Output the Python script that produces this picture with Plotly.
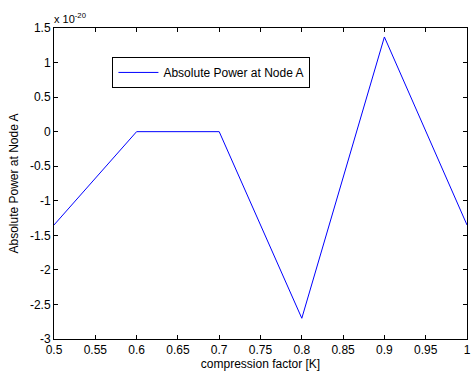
import plotly.graph_objects as go

x_vals = [0.5, 0.6, 0.7, 0.8, 0.9, 1.0]
y_vals = [-1.35, 0.0, 0.0, -2.70, 1.37, -1.35]  # in units of 1e-20
x_ticks = [0.5, 0.55, 0.6, 0.65, 0.7, 0.75, 0.8, 0.85, 0.9, 0.95, 1.0]
x_tick_labels = ["0.5", "0.55", "0.6", "0.65", "0.7", "0.75", "0.8", "0.85", "0.9", "0.95", "1"]
y_ticks = [-3, -2.5, -2, -1.5, -1, -0.5, 0, 0.5, 1, 1.5]
y_tick_labels = ["-3", "-2.5", "-2", "-1.5", "-1", "-0.5", "0", "0.5", "1", "1.5"]
series_name = "Absolute Power at Node A"

FONT = "Liberation Sans, Arial, sans-serif"

fig = go.Figure()
fig.add_trace(go.Scatter(x=x_vals, y=y_vals, mode="lines", name=series_name,
                         line=dict(color="#0000FF", width=1)))

axis_common = dict(showgrid=False, zeroline=False, showline=True, mirror="ticks",
                   linecolor="black", linewidth=1, ticks="inside", ticklen=4,
                   tickcolor="black", ticklabeloverflow="allow",
                   tickfont=dict(family=FONT, size=12, color="black"))

fig.update_layout(
    width=472, height=378,
    margin=dict(l=54, r=1, t=28, b=39),
    paper_bgcolor="white", plot_bgcolor="white",
    font=dict(family=FONT, size=12, color="black"),
    xaxis=dict(range=[0.5, 1.0], tickvals=x_ticks, ticktext=x_tick_labels,
               title=dict(text="compression factor [K]", standoff=1, font=dict(size=12)), **axis_common),
    yaxis=dict(range=[-3, 1.5], tickvals=y_ticks, ticktext=y_tick_labels,
               title=dict(text="Absolute Power at Node A", standoff=8, font=dict(size=12)), **axis_common),
    showlegend=True,
    legend=dict(x=0.1415, y=0.907, xanchor="left", yanchor="top",
                bordercolor="black", borderwidth=1, bgcolor="white",
                font=dict(size=12), tracegroupgap=0, itemwidth=40),
    annotations=[dict(text="x 10<sup>-20</sup>", xref="paper", yref="paper",
                      x=0, y=1, xanchor="left", yanchor="bottom", showarrow=False,
                      font=dict(size=11), xshift=-2, yshift=1)],
)

fig.write_html("out.html", config={"displayModeBar": False},
               post_script="document.body.style.margin='0';document.body.style.overflow='hidden';")
